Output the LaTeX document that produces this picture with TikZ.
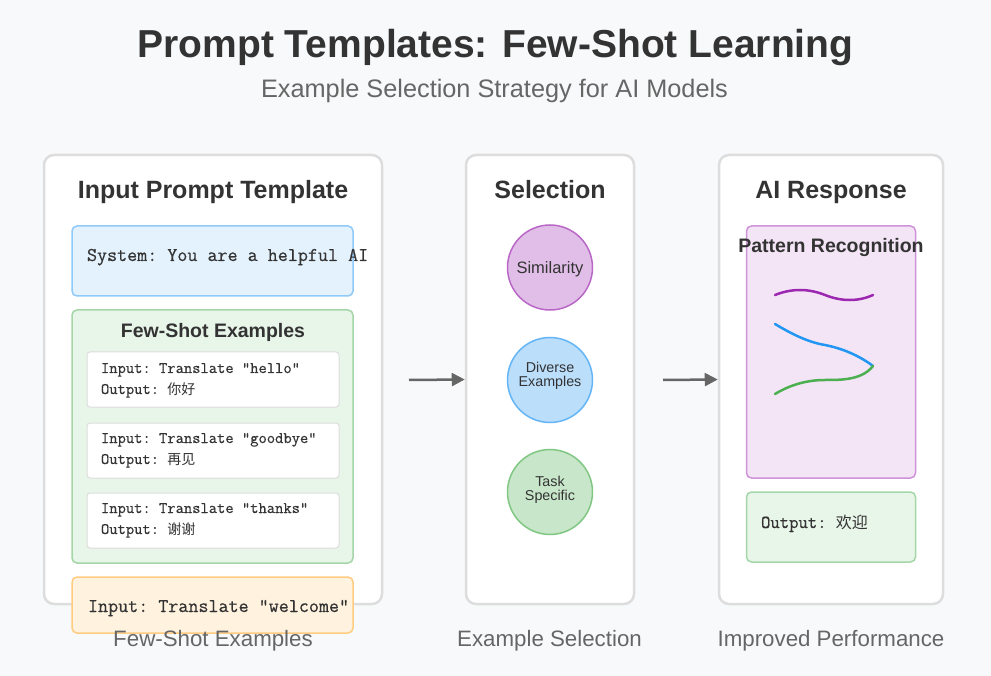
\documentclass[tikz,border=0pt]{standalone}
\usepackage{fontspec}
\setmainfont{Liberation Sans}
\setmonofont[FakeBold=0.5]{Latin Modern Mono}
\newfontfamily\cjk{Noto Sans CJK SC}
\usetikzlibrary{arrows.meta}
\definecolor{bgc}{HTML}{F8F9FA}
\definecolor{dark}{HTML}{333333}
\definecolor{mid}{HTML}{666666}
\definecolor{panelline}{HTML}{DDDDDD}
\definecolor{sysfill}{HTML}{E3F2FD}
\definecolor{sysline}{HTML}{90CAF9}
\definecolor{grnfill}{HTML}{E8F5E9}
\definecolor{grnline}{HTML}{A5D6A7}
\definecolor{orgfill}{HTML}{FFF3E0}
\definecolor{orgline}{HTML}{FFCC80}
\definecolor{pnkfill}{HTML}{F3E5F5}
\definecolor{pnkline}{HTML}{CE93D8}
\definecolor{c1fill}{HTML}{E1BEE7}
\definecolor{c1line}{HTML}{BA68C8}
\definecolor{c2fill}{HTML}{BBDEFB}
\definecolor{c2line}{HTML}{64B5F6}
\definecolor{c3fill}{HTML}{C8E6C9}
\definecolor{c3line}{HTML}{81C784}
\definecolor{wpurple}{HTML}{9C27B0}
\definecolor{wblue}{HTML}{2196F3}
\definecolor{wgreen}{HTML}{4CAF50}
\newcommand\zhs[1]{{\cjk\fontsize{14}{16}\selectfont #1}}
\newcommand\zhl[1]{{\cjk\fontsize{16}{18}\selectfont #1}}
\tikzset{
  txt/.style={inner sep=0pt, outer sep=0pt, text=dark},
  titlef/.style={txt, anchor=base, font=\fontsize{39}{44}\selectfont\bfseries},
  subf/.style={txt, anchor=base, text=mid, font=\fontsize{25.3}{30}\selectfont},
  ptitle/.style={txt, anchor=base, font=\fontsize{25}{30}\selectfont\bfseries},
  btitle/.style={txt, anchor=base, font=\fontsize{19.5}{23}\selectfont\bfseries},
  capf/.style={txt, anchor=base, text=mid, font=\fontsize{22.3}{26}\selectfont},
  monol/.style={txt, anchor=base west, font=\fontsize{19.5}{22}\ttfamily},
  monom/.style={txt, anchor=base west, font=\fontsize{18.2}{22}\ttfamily},
  monos/.style={txt, anchor=base west, font=\fontsize{16.1}{18}\ttfamily},
  circt/.style={txt, anchor=base, font=\fontsize{14.3}{14}\selectfont},
  panel/.style={draw=panelline, line width=2.5pt, fill=white, rounded corners=10pt, inner sep=0pt},
  box/.style={line width=1.5pt, rounded corners=5pt, inner sep=0pt},
  exbox/.style={draw=panelline, line width=1pt, fill=white, rounded corners=3pt, inner sep=0pt,
    minimum width=252pt, minimum height=55pt},
  selcirc/.style={circle, line width=1.5pt, minimum size=85pt, inner sep=0pt},
  flow/.style={draw=mid, line width=2.5pt, -{Triangle[length=13pt,width=13pt]}},
  wave/.style={line width=2.5pt, line cap=round}
}
\begin{document}
\begin{tikzpicture}[x=1pt,y=-1pt]
\fill[bgc] (0,0) rectangle (991,676);
\useasboundingbox (0,0) rectangle (991,676);

% titles
\node[titlef] (title) at (495.5,58) {Prompt Templates: Few-Shot Learning};
\node[subf] (subtitle) at (494.5,98) {Example Selection Strategy for AI Models};

% panels
\node[panel, minimum width=338pt, minimum height=449pt] (leftp) at (213,379.5) {};
\node[panel, minimum width=168pt, minimum height=449pt] (midp) at (550,379.5) {};
\node[panel, minimum width=224pt, minimum height=449pt] (rightp) at (831,379.5) {};

\node[ptitle] (lt) at (213,199) {Input Prompt Template};
\node[ptitle] (mt) at (550,199) {Selection};
\node[ptitle] (rt) at (831,199) {AI Response};

% left panel content
\node[box, draw=sysline, fill=sysfill, minimum width=281pt, minimum height=70pt] (sys) at (212.5,261) {};
\node[monol] (systxt) at (87,261) {System: You are a helpful AI};

\node[box, draw=grnline, fill=grnfill, minimum width=281pt, minimum height=253pt] (fs) at (212.5,436.5) {};
\node[btitle] (fst) at (213,338) {Few-Shot Examples};

\node[exbox] (ex1) at (213,379.5) {};
\node[exbox] (ex2) at (213,450.5) {};
\node[exbox] (ex3) at (213,520.5) {};
\node[monos] (ex1a) at (101,373) {Input: Translate "hello"};
\node[monos] (ex1b) at (101,394) {Output: \zhs{你好}};
\node[monos] (ex2a) at (101,443) {Input: Translate "goodbye"};
\node[monos] (ex2b) at (101,464) {Output: \zhs{再见}};
\node[monos] (ex3a) at (101,513) {Input: Translate "thanks"};
\node[monos] (ex3b) at (101,534) {Output: \zhs{谢谢}};

\node[box, draw=orgline, fill=orgfill, minimum width=281pt, minimum height=56pt] (inp) at (212.5,605) {};
\node[monol] (inptxt) at (88,612) {Input: Translate "welcome"};

% middle panel content
\node[selcirc, draw=c1line, fill=c1fill] (c1) at (550,267.5) {};
\node[selcirc, draw=c2line, fill=c2fill] (c2) at (550,380) {};
\node[selcirc, draw=c3line, fill=c3fill] (c3) at (550,492) {};
\node[txt, anchor=base, font=\fontsize{16.5}{18}\selectfont] (c1t) at (550,274) {Similarity};
\node[circt] (c2t1) at (550,373) {Diverse};
\node[circt] (c2t2) at (550,387) {Examples};
\node[circt] (c3t1) at (550,486) {Task};
\node[circt] (c3t2) at (550,500) {Specific};

% right panel content
\node[box, draw=pnkline, fill=pnkfill, minimum width=169pt, minimum height=252pt] (pat) at (831,352) {};
\node[btitle] (patt) at (831,253) {Pattern Recognition};
\draw[wave, wpurple] (775,295) .. controls (791.67,288.33) and (808.33,288.33) .. (825,295)
  .. controls (841.67,301.67) and (858.33,301.67) .. (873,295);
\draw[wave, wblue] (775,324) .. controls (791.67,334) and (808.33,342.33) .. (825,345)
  .. controls (841.67,348.33) and (858.33,355) .. (873,366);
\draw[wave, wgreen] (775,394) .. controls (791.67,384) and (808.33,380) .. (825,380)
  .. controls (841.67,380) and (862,380) .. (873,366);

\node[box, draw=grnline, fill=grnfill, minimum width=169pt, minimum height=70pt] (outb) at (831,527) {};
\node[monom] (outt) at (761,528) {Output: \zhl{欢迎}};

% arrows
\coordinate (a1) at (409,380);
\coordinate (a2) at (663,380);
\draw[flow] (a1) -- (midp.west);
\draw[flow] (a2) -- (rightp.west);

% captions
\node[capf] (cap1) at (213,646) {Few-Shot Examples};
\node[capf] (cap2) at (549.5,646) {Example Selection};
\node[capf] (cap3) at (831,646) {Improved Performance};
\end{tikzpicture}
\end{document}
